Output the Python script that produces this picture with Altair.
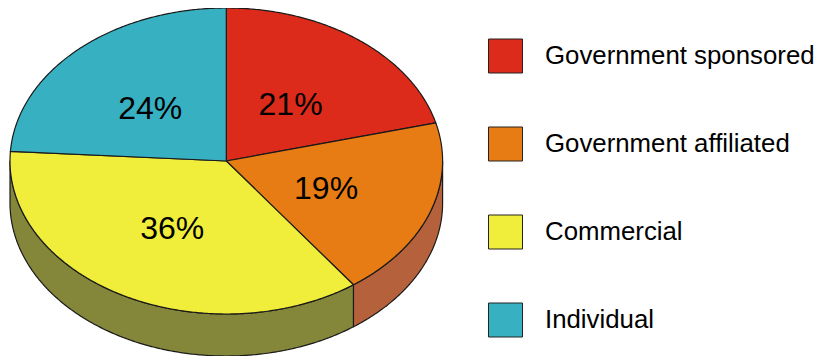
import numpy as np
import pandas as pd
import altair as alt

# ---- data ----
categories = ["Government sponsored", "Government affiliated", "Commercial", "Individual"]
shares = [21, 19, 36, 24]
pct_labels = ["21%", "19%", "36%", "24%"]
top_colors = ["#DC2B1A", "#E77C15", "#F0EE3A", "#37B1C2"]
side_colors = ["#A8281C", "#B5623C", "#84863A", "#2A8A97"]

# ---- layout constants (page pixel space) ----
CX, CY = 226.3, 161.0
RX, RY = 216.3, 153.0
DEPTH = 42.0
LABEL_RX, LABEL_RY = 0.5, 0.485
LABEL_DX, LABEL_DY = -2.0, 2.5

def pt(theta, dy=0.0):
    t = np.radians(theta)
    return CX + RX * np.sin(t), CY - RY * np.cos(t) + dy

cum = np.concatenate([[0], np.cumsum(shares)]) / float(sum(shares)) * 360.0

top_rows, side_rows, label_rows = [], [], []
for k, cat in enumerate(categories):
    a0, a1 = cum[k], cum[k + 1]
    n = max(3, int((a1 - a0) * 2))
    pts = [(CX, CY)] + [pt(a) for a in np.linspace(a0, a1, n)] + [(CX, CY)]
    for i, (x, y) in enumerate(pts):
        top_rows.append({"cat": cat, "i": i, "x": x, "y": y})
    # visible side wall: front half 90..270 deg
    s0, s1 = max(a0, 90.0), min(a1, 270.0)
    if s1 > s0:
        m = max(3, int((s1 - s0) * 2))
        arc = np.linspace(s0, s1, m)
        spts = [pt(a) for a in arc] + [pt(a, DEPTH) for a in arc[::-1]]
        spts.append(spts[0])
        for i, (x, y) in enumerate(spts):
            side_rows.append({"cat": cat, "i": i, "x": x, "y": y})
    mid = (a0 + a1) / 2.0
    t = np.radians(mid)
    label_rows.append({"cat": cat, "label": pct_labels[k],
                       "x": CX + LABEL_DX + LABEL_RX * RX * np.sin(t),
                       "y": CY + LABEL_DY - LABEL_RY * RY * np.cos(t)})

top_df = pd.DataFrame(top_rows)
side_df = pd.DataFrame(side_rows)
label_df = pd.DataFrame(label_rows)
legend_df = pd.DataFrame({
    "cat": categories,
    "color": top_colors,
    "x": [505.5] * 4,
    "tx": [545.0] * 4,
    "y": [56 + 88 * i for i in range(4)],
})

W, H = 808, 348
xs = alt.Scale(domain=[8, 8 + W], nice=False, zero=False)
ys = alt.Scale(domain=[8, 8 + H], nice=False, zero=False, reverse=True)
X = lambda f: alt.X(f, type="quantitative", scale=xs, axis=None)
Y = lambda f: alt.Y(f, type="quantitative", scale=ys, axis=None)

layers = []
for k, cat in enumerate(categories):
    d = side_df[side_df["cat"] == cat]
    if len(d):
        layers.append(
            alt.Chart(d).mark_line(fill=side_colors[k], stroke="#1a1a1a", strokeWidth=1.2,
                                   strokeJoin="round")
            .encode(x=X("x"), y=Y("y"), order=alt.Order("i:Q"))
        )
for k, cat in enumerate(categories):
    d = top_df[top_df["cat"] == cat]
    layers.append(
        alt.Chart(d).mark_line(fill=top_colors[k], stroke="#1a1a1a", strokeWidth=1.2,
                               strokeJoin="round")
        .encode(x=X("x"), y=Y("y"), order=alt.Order("i:Q"))
    )

layers.append(
    alt.Chart(label_df).mark_text(font="Liberation Sans", fontSize=32, color="black",
                                  align="center", baseline="middle")
    .encode(x=X("x"), y=Y("y"), text="label:N")
)
layers.append(
    alt.Chart(legend_df).mark_square(size=34 * 34, stroke="#222222", strokeWidth=1, opacity=1)
    .encode(x=X("x"), y=Y("y"), fill=alt.Fill("color:N", scale=None))
)
layers.append(
    alt.Chart(legend_df).mark_text(font="Liberation Sans", fontSize=25.8, color="black",
                                   align="left", baseline="middle")
    .encode(x=X("tx"), y=Y("y"), text="cat:N")
)

chart = alt.layer(*layers).properties(
    width=W, height=H, padding=0,
    autosize=alt.AutoSizeParams(type="none"),
    background="white",
).configure_view(strokeOpacity=0)

chart.save("out.html", embed_options={"renderer": "svg", "actions": False})
